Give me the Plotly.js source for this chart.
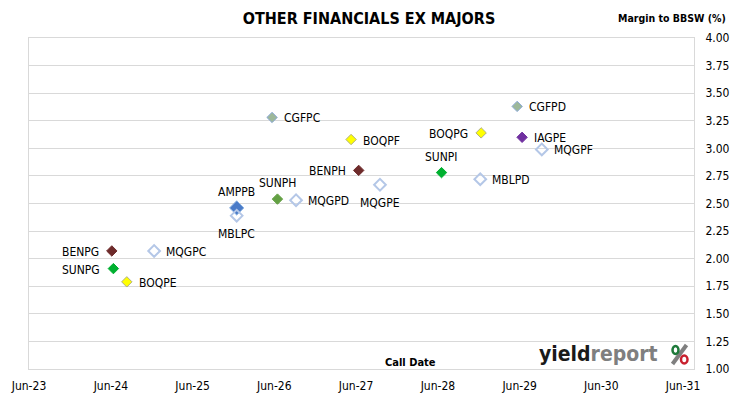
<!DOCTYPE html>
<html>
<head>
<meta charset="utf-8">
<script src="https://cdn.plot.ly/plotly-3.0.1.min.js"></script>
<style>html,body{margin:0;padding:0;background:#fff;}#chart{width:730px;height:399px;}</style>
</head>
<body>
<div id="chart"></div>
<script>
// ---- data ----
const codes = ['CGFPC','CGFPD','BOQPF','BOQPG','IAGPE','MQGPF','BENPH','SUNPI','MBLPD','MQGPE','MQGPD','SUNPH','AMPPB','MBLPC','BENPG','MQGPC','SUNPG','BOQPE'];
const callDates = ['2026-05-22','2029-05-21','2027-05-10','2028-12-11','2029-06-12','2029-09-08','2027-06-13','2028-06-17','2028-12-07','2027-09-16','2026-09-06','2026-06-15','2025-12-15','2025-12-15','2024-06-05','2024-12-11','2024-06-12','2024-08-11'];
const margins = [3.28, 3.38, 3.08, 3.14, 3.10, 2.99, 2.80, 2.78, 2.72, 2.67, 2.53, 2.54, 2.46, 2.39, 2.07, 2.07, 1.91, 1.79];
const tickDates = ['2023-06-01','2024-06-01','2025-06-01','2026-06-01','2027-06-01','2028-06-01','2029-06-01','2030-06-01','2031-06-01'];
const tickLabels = ['Jun-23','Jun-24','Jun-25','Jun-26','Jun-27','Jun-28','Jun-29','Jun-30','Jun-31'];

// ---- styles (by code) ----
const FONT = '"DejaVu Sans Condensed", "Liberation Sans Narrow", Arial, sans-serif';
const issuerStyle = {
  CGF: {symbol:'diamond', size:8, color:'#9db89a', line:'#8eaadb', lw:1},
  BOQ: {symbol:'diamond', size:8, color:'#ffff00', line:'#b0b080', lw:1},
  IAG: {symbol:'diamond', size:8, color:'#7030a0', line:'#7030a0', lw:1},
  MQG: {symbol:'diamond-open', size:9, color:'#b4c7e7', line:'#b4c7e7', lw:2},
  MBL: {symbol:'diamond-open', size:9, color:'#b4c7e7', line:'#b4c7e7', lw:2},
  BEN: {symbol:'diamond', size:8, color:'#6e2b2b', line:'#6e2b2b', lw:1},
  SUNPI: {symbol:'diamond', size:8, color:'#00b030', line:'#00b030', lw:1},
  SUNPG: {symbol:'diamond', size:8, color:'#00b030', line:'#00b030', lw:1},
  SUNPH: {symbol:'diamond', size:8, color:'#63a043', line:'#63a043', lw:1},
  AMP: {symbol:'diamond', size:11, color:'#4a7bc8', line:'#8eb4e3', lw:1}
};
function styleOf(c){ return issuerStyle[c] || issuerStyle[c.slice(0,3)]; }
const labelPos = {
  CGFPC:'r', CGFPD:'r', BOQPF:'r', BOQPG:'l', IAGPE:'r', MQGPF:'r', BENPH:'l', SUNPI:'t', MBLPD:'r',
  MQGPE:'b', MQGPD:'r', SUNPH:'t', AMPPB:'t', MBLPC:'b', BENPG:'l', MQGPC:'r', SUNPG:'l', BOQPE:'r'
};

const trace = {
  type:'scatter', mode:'markers',
  x: callDates, y: margins,
  marker:{
    opacity:1,
    symbol: codes.map(c=>styleOf(c).symbol),
    size: codes.map(c=>styleOf(c).size),
    color: codes.map(c=>styleOf(c).color),
    line:{color: codes.map(c=>styleOf(c).line), width: codes.map(c=>styleOf(c).lw)}
  },
  hoverinfo:'skip', showlegend:false
};

const annotations = codes.map((c,i)=>{
  const p = labelPos[c];
  const a = {x: callDates[i], y: margins[i], xref:'x', yref:'y', text:c, showarrow:false,
    font:{family:FONT, size:12, color:'#000'}, yanchor:'middle', xanchor:'center'};
  if(p==='r'){ a.xanchor='left'; a.xshift=10; a.yshift=-1; }
  if(p==='l'){ a.xanchor='right'; a.xshift=-11; a.yshift=-1; }
  if(p==='t'){ a.yshift=16; }
  if(p==='b'){ a.yshift=-18; }
  return a;
});

const L=29, R=694, T=38, B=369;
const px = v => (v-L)/(R-L);
const py = v => (B-v)/(B-T);

annotations.push(
  {xref:'paper', yref:'paper', x:px(728), y:py(18), xanchor:'right', yanchor:'middle', showarrow:false,
   text:'<b>Margin to BBSW (%)</b>', font:{family:FONT, size:10.5, color:'#000'}},
  {xref:'paper', yref:'paper', x:px(411), y:py(362), xanchor:'center', yanchor:'middle', showarrow:false,
   text:'<b>Call Date</b>', font:{family:FONT, size:11, color:'#000'}},
  {xref:'paper', yref:'paper', x:px(660), y:py(354), xanchor:'right', yanchor:'middle', showarrow:false,
   text:'<b>yield</b><b><span style="color:#7f7f7f">report</span></b>', font:{family:FONT, size:21, color:'#1a1a1a'}}
);

const shapes = [
  {type:'line', xref:'paper', yref:'paper', x0:px(672.5), y0:py(364), x1:px(686.5), y1:py(345), line:{color:'#7f7f7f', width:4}},
  {type:'circle', xref:'paper', yref:'paper', x0:px(672.5), x1:px(678.5), y0:py(354), y1:py(346), fillcolor:'#ffffff', line:{color:'#1e7a3a', width:2.5}},
  {type:'circle', xref:'paper', yref:'paper', x0:px(681), x1:px(687.5), y0:py(363.5), y1:py(355.5), fillcolor:'#ffffff', line:{color:'#c8202e', width:2.5}}
];

const layout = {
  width:730, height:399,
  margin:{l:L, r:730-R, t:T, b:399-B, pad:0},
  paper_bgcolor:'#fff', plot_bgcolor:'#fff',
  title:{text:'<b>OTHER FINANCIALS EX MAJORS</b>', x:369/730, xanchor:'center', y:1-18/399, yanchor:'middle',
    font:{family:FONT, size:16, color:'#000'}},
  xaxis:{type:'date', range:['2023-06-01','2031-07-20'], showgrid:false, zeroline:false,
    tickvals:tickDates, ticktext:tickLabels, ticks:'', ticklabelstandoff:6,
    showline:true, mirror:true, linecolor:'#d9d9d9', linewidth:1,
    tickfont:{family:FONT, size:12, color:'#000'}},
  yaxis:{side:'right', range:[1,4], dtick:0.25, tick0:1, tickformat:'.2f', showgrid:true, gridcolor:'#d9d9d9',
    zeroline:false, showline:true, mirror:true, linecolor:'#d9d9d9', linewidth:1, ticks:'', ticklabelstandoff:8,
    tickfont:{family:FONT, size:12, color:'#000'}},
  annotations: annotations,
  shapes: shapes,
  showlegend:false
};

Plotly.newPlot('chart', [trace], layout, {displayModeBar:false, staticPlot:true});
</script>
</body>
</html>
